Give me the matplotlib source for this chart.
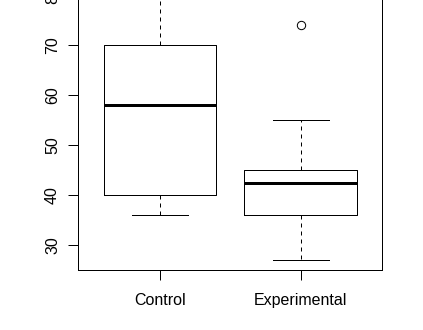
import matplotlib
matplotlib.use("Agg")
import matplotlib.pyplot as plt

plt.rcParams["font.family"] = ["Liberation Sans", "DejaVu Sans"]

groups = ["Control", "Experimental"]
q1 = [40, 36]
medians = [58, 42.5]
q3 = [70, 45]
whislo = [36, 27]
whishi = [88, 55]
fliers = [[], [74]]
yticks = [30, 40, 50, 60, 70, 80]

stats = []
for i, g in enumerate(groups):
    stats.append(dict(label=g, q1=q1[i], med=medians[i], q3=q3[i],
                      whislo=whislo[i], whishi=whishi[i], fliers=fliers[i]))

px = 0.72  # one pixel in points at dpi 100
fig = plt.figure(figsize=(4.23, 3.30), dpi=100)
ax = fig.add_axes([78.3 / 423, 59.7 / 330, 304 / 423, 335 / 330])

ax.bxp(stats, positions=[1, 2], widths=0.8, capwidths=0.4,
       boxprops=dict(color="black", linewidth=px),
       medianprops=dict(color="black", linewidth=3 * px, solid_capstyle="butt"),
       whiskerprops=dict(color="black", linewidth=px, linestyle=(0, (4, 4))),
       capprops=dict(color="black", linewidth=px),
       flierprops=dict(marker="o", markerfacecolor="none", markeredgecolor="black",
                       markersize=6.0, markeredgewidth=px))

ax.set_xlim(0.42, 2.58)
ax.set_ylim(25, 92)
ax.set_yticks(yticks)
ax.set_xticks([1, 2])
ax.set_xticklabels(groups)

for s in ax.spines.values():
    s.set_linewidth(px)
    s.set_color("black")

ax.tick_params(axis="both", direction="out", length=10 * px, width=px,
               labelsize=11.5, colors="black")
ax.tick_params(axis="x", pad=9.5)
ax.tick_params(axis="y", pad=6, labelrotation=90)
for lab in ax.get_yticklabels():
    lab.set_va("center")

fig.savefig("out.png", dpi=100)
